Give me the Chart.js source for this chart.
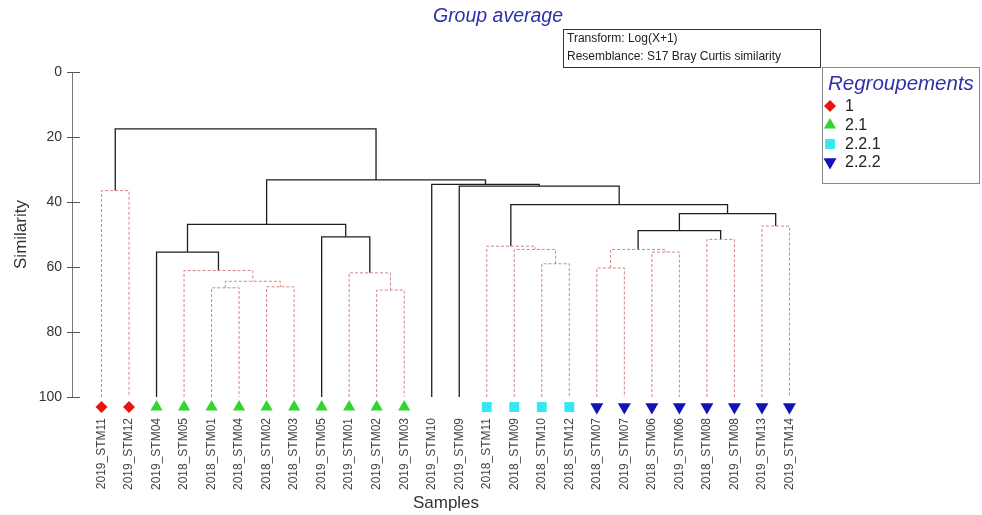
<!DOCTYPE html>
<html>
<head>
<meta charset="utf-8">
<script src="https://cdn.jsdelivr.net/npm/chart.js@4.4.1/dist/chart.umd.min.js"></script>
<style>
  html, body { margin: 0; padding: 0; background: #fff; }
  #wrap { position: relative; width: 982px; height: 515px; }
</style>
</head>
<body>
<div id="wrap"><canvas id="c" width="982" height="515"></canvas></div>
<script>
// Sample names, in dendrogram leaf order
const samples = [
  '2019_STM11', '2019_STM12', '2019_STM04', '2018_STM05', '2018_STM01', '2018_STM04',
  '2018_STM02', '2018_STM03', '2019_STM05', '2019_STM01', '2019_STM02', '2019_STM03',
  '2019_STM10', '2019_STM09', '2018_STM11', '2018_STM09', '2018_STM10', '2018_STM12',
  '2018_STM07', '2019_STM07', '2018_STM06', '2019_STM06', '2018_STM08', '2019_STM08',
  '2019_STM13', '2019_STM14'
];

// Group of each sample (null = no group)
const sampleGroups = [
  '1', '1', '2.1', '2.1', '2.1', '2.1', '2.1', '2.1', '2.1', '2.1', '2.1', '2.1',
  null, null, '2.2.1', '2.2.1', '2.2.1', '2.2.1',
  '2.2.2', '2.2.2', '2.2.2', '2.2.2', '2.2.2', '2.2.2', '2.2.2', '2.2.2'
];

const groupNames = ['1', '2.1', '2.2.1', '2.2.2'];

// Cluster joins: node ids 0..25 are samples, each join creates node 26, 27, ...
const mergeLeft  = [0, 4, 6, 27, 3, 2, 10, 9, 8, 31, 16, 15, 14, 18, 20, 39, 22, 41, 24, 43, 38, 13, 12, 35, 26];
const mergeRight = [1, 5, 7, 28, 29, 30, 11, 32, 33, 34, 17, 36, 37, 19, 21, 40, 23, 42, 25, 44, 45, 46, 47, 48, 49];
const mergeSimilarity = [36.5, 66.4, 66.1, 64.4, 61.1, 55.4, 67.1, 61.8, 50.7, 46.9, 59.0, 54.6, 53.6,
                         60.3, 55.4, 54.6, 51.5, 48.8, 47.4, 43.6, 40.8, 35.1, 34.6, 33.2, 17.5];
// true = structure supported (solid), false = not supported (dashed)
const mergeSupported = [false, false, false, false, false, true, false, false, true, true, false, false, false,
                        false, false, false, false, true, false, true, true, true, true, true, true];

const yTicks = [0, 20, 40, 60, 80, 100];

// ---- styling ----
const FONT = "'Liberation Sans', Arial, Helvetica, sans-serif";
const groupStyle = {
  '1':     { pointStyle: 'rectRot',  rotation: 0,   radius: 6,   color: '#e81414' },
  '2.1':   { pointStyle: 'triangle', rotation: 0,   radius: 7,   color: '#2ed62e' },
  '2.2.1': { pointStyle: 'rect',     rotation: 0,   radius: 7,   color: '#35e8f0' },
  '2.2.2': { pointStyle: 'triangle', rotation: 180, radius: 7.5, color: '#1212b8' }
};
const SOLID = '#1e1e1e';
const DASHED = '#d48484';

// ---- node positions derived from the joins ----
const nodeX = samples.map((_, i) => i);
const nodeY = samples.map(() => 100);
mergeLeft.forEach((l, k) => {
  nodeX.push((nodeX[l] + nodeX[mergeRight[k]]) / 2);
  nodeY.push(mergeSimilarity[k]);
});

const datasets = [];
mergeLeft.forEach((l, k) => {
  const r = mergeRight[k];
  const h = mergeSimilarity[k];
  const solid = mergeSupported[k];
  datasets.push({
    type: 'line',
    data: [
      { x: nodeX[l], y: nodeY[l] },
      { x: nodeX[l], y: h },
      { x: nodeX[r], y: h },
      { x: nodeX[r], y: nodeY[r] }
    ],
    borderColor: solid ? SOLID : DASHED,
    borderWidth: solid ? 1.3 : 1,
    borderDash: solid ? [] : [3, 2],
    pointRadius: 0,
    tension: 0,
    fill: false,
    clip: false
  });
});

groupNames.forEach(g => {
  const st = groupStyle[g];
  const pts = [];
  sampleGroups.forEach((sg, i) => { if (sg === g) pts.push({ x: i, y: 100 }); });
  datasets.push({
    type: 'scatter',
    leafMarkers: true,
    data: pts,
    pointStyle: st.pointStyle,
    rotation: st.rotation,
    pointRadius: st.radius,
    pointHoverRadius: st.radius,
    backgroundColor: st.color,
    borderColor: st.color,
    borderWidth: 0,
    clip: false
  });
});

// Leaf markers sit just below the 100 line
const markerShift = {
  id: 'markerShift',
  beforeDatasetDraw(chart, args) {
    if (chart.data.datasets[args.index].leafMarkers) {
      chart.ctx.save();
      chart.ctx.translate(0, 10);
    }
  },
  afterDatasetDraw(chart, args) {
    if (chart.data.datasets[args.index].leafMarkers) chart.ctx.restore();
  }
};

// Inner half of the y tick marks (crossing the axis line)
const innerTicks = {
  id: 'innerTicks',
  afterDraw(chart) {
    const ctx = chart.ctx, y = chart.scales.y, x0 = chart.chartArea.left;
    ctx.save();
    ctx.strokeStyle = '#555';
    ctx.lineWidth = 1;
    yTicks.forEach(t => {
      const py = Math.round(y.getPixelForValue(t)) + 0.5;
      ctx.beginPath();
      ctx.moveTo(x0, py);
      ctx.lineTo(x0 + 8, py);
      ctx.stroke();
    });
    ctx.restore();
  }
};

// Title, method note and group key
const decorations = {
  id: 'decorations',
  afterDraw(chart) {
    const ctx = chart.ctx;
    ctx.save();
    // title
    ctx.font = "italic 19.5px " + FONT;
    ctx.fillStyle = '#2f2fa8';
    ctx.textAlign = 'center';
    ctx.textBaseline = 'middle';
    ctx.fillText('Group average', 498, 17);

    // method note
    ctx.strokeStyle = '#333';
    ctx.lineWidth = 1;
    ctx.strokeRect(563.5, 29.5, 257, 38);
    ctx.font = "12px " + FONT;
    ctx.fillStyle = '#222';
    ctx.textAlign = 'left';
    ctx.fillText('Transform: Log(X+1)', 567, 39);
    ctx.fillText('Resemblance: S17 Bray Curtis similarity', 567, 57);

    // group key
    ctx.strokeStyle = '#888';
    ctx.strokeRect(822.5, 67.5, 157, 116);
    ctx.font = "italic 20.5px " + FONT;
    ctx.fillStyle = '#2f2fa8';
    ctx.fillText('Regroupements', 828, 84);
    ctx.font = "16px " + FONT;
    const rows = [106, 125, 144, 162];
    groupNames.forEach((g, i) => {
      const st = groupStyle[g];
      ctx.fillStyle = st.color;
      ctx.strokeStyle = st.color;
      Chart.helpers.drawPoint(ctx, {
        pointStyle: st.pointStyle, rotation: st.rotation,
        radius: st.radius, borderWidth: 0
      }, 830, rows[i]);
      ctx.fillStyle = '#222';
      ctx.fillText(g, 845, rows[i] + 1);
    });
    ctx.restore();
  }
};

new Chart(document.getElementById('c'), {
  type: 'line',
  data: { datasets },
  options: {
    responsive: false,
    animation: false,
    events: [],
    layout: { padding: { top: 72, right: 162, left: 0, bottom: 0 } },
    plugins: { legend: { display: false }, tooltip: { enabled: false }, title: { display: false } },
    scales: {
      x: {
        type: 'linear',
        min: -1.072,
        max: 26.11,
        grid: { display: false, drawTicks: false },
        border: { display: false },
        afterFit(scale) { scale.height = 118; },
        afterBuildTicks(scale) { scale.ticks = samples.map((_, i) => ({ value: i })); },
        ticks: {
          autoSkip: false,
          minRotation: 90,
          maxRotation: 90,
          padding: 21,
          color: '#444',
          font: { family: FONT, size: 12 },
          callback: v => samples[v] ?? ''
        },
        title: {
          display: true,
          text: 'Samples',
          color: '#333',
          font: { family: FONT, size: 17 },
          padding: { top: 0, bottom: 1 }
        }
      },
      y: {
        type: 'linear',
        reverse: true,
        min: 0,
        max: 100,
        afterFit(scale) { scale.width = 72; },
        afterBuildTicks(scale) { scale.ticks = yTicks.map(v => ({ value: v })); },
        grid: { drawOnChartArea: false, drawTicks: true, tickLength: 5, color: '#555' },
        border: { display: true, color: '#777', width: 1 },
        ticks: {
          padding: 5,
          color: '#333',
          font: { family: FONT, size: 14 }
        },
        title: {
          display: true,
          text: 'Similarity',
          color: '#333',
          font: { family: FONT, size: 17 },
          padding: { top: 11, bottom: 0 }
        }
      }
    }
  },
  plugins: [markerShift, innerTicks, decorations]
});
</script>
</body>
</html>
